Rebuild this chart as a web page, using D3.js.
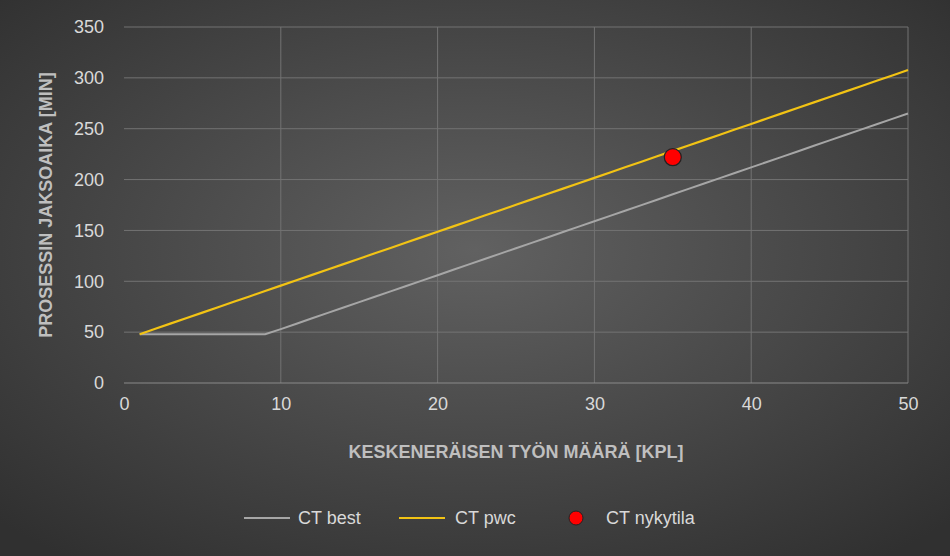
<!DOCTYPE html><html><head><meta charset="utf-8"><script src="https://cdn.jsdelivr.net/npm/d3@7"></script>
<style>body{margin:0;background:#333}text{font-family:"Liberation Sans",Arial,sans-serif}</style></head><body>
<svg id="c" width="950" height="556"></svg>
<script>
const wip = d3.range(1,51);
const ctBest = [48,48,48,48,48,48,48,48,48,53,58.3,63.6,68.9,74.2,79.5,84.8,90.1,95.4,100.7,106,111.3,116.6,121.9,127.2,132.5,137.8,143.1,148.4,153.7,159,164.3,169.6,174.9,180.2,185.5,190.8,196.1,201.4,206.7,212,217.3,222.6,227.9,233.2,238.5,243.8,249.1,254.4,259.7,265];
const ctPwc = [48,53.3,58.6,63.9,69.2,74.5,79.8,85.1,90.4,95.7,101,106.3,111.6,116.9,122.2,127.5,132.8,138.1,143.4,148.7,154,159.3,164.6,169.9,175.2,180.5,185.8,191.1,196.4,201.7,207,212.3,217.6,222.9,228.2,233.5,238.8,244.1,249.4,254.7,260,265.3,270.6,275.9,281.2,286.5,291.8,297.1,302.4,307.7];
const current = [{x:35,y:222}];
const xTicks = [0,10,20,30,40,50];
const yTicks = [0,50,100,150,200,250,300,350];

const svg = d3.select("#c");
const defs = svg.append("defs");
const g = defs.append("radialGradient").attr("id","bg").attr("cx","50%").attr("cy","45%").attr("r","70%");
g.append("stop").attr("offset","0%").attr("stop-color","#616161");
g.append("stop").attr("offset","100%").attr("stop-color","#303030");
svg.append("rect").attr("width",950).attr("height",556).attr("fill","url(#bg)");

const x = d3.scaleLinear().domain([0,50]).range([124,908]);
const y = d3.scaleLinear().domain([0,350]).range([383,27]);

svg.append("g").selectAll("line").data(yTicks.slice(1)).join("line")
 .attr("x1",124).attr("x2",908).attr("y1",d=>y(d)).attr("y2",d=>y(d)).attr("stroke","#737373").attr("stroke-width",1);
svg.append("g").selectAll("line").data(xTicks.slice(1)).join("line")
 .attr("y1",27).attr("y2",383).attr("x1",d=>x(d)).attr("x2",d=>x(d)).attr("stroke","#737373").attr("stroke-width",1);
svg.append("line").attr("x1",124).attr("x2",908).attr("y1",383).attr("y2",383).attr("stroke","#8a8a8a");

const yAx = svg.append("g").attr("transform","translate(124,0)").call(d3.axisLeft(y).tickValues(yTicks).tickSize(0).tickPadding(20));
const xAx = svg.append("g").attr("transform","translate(0,383)").call(d3.axisBottom(x).tickValues(xTicks).tickSize(0).tickPadding(14));
[yAx,xAx].forEach(a=>{a.select(".domain").remove();a.selectAll("text").attr("fill","#d9d9d9").style("font-size","18px");});

const line = d3.line().x((d,i)=>x(wip[i])).y(d=>y(d));
svg.append("path").datum(ctBest).attr("d",line).attr("fill","none").attr("stroke","#a6a6a6").attr("stroke-width",2);
svg.append("path").datum(ctPwc).attr("d",line).attr("fill","none").attr("stroke","#f2c314").attr("stroke-width",2.2);
svg.selectAll("circle.pt").data(current).join("circle").attr("cx",d=>x(d.x)).attr("cy",d=>y(d.y)).attr("r",8.5)
 .attr("fill","#ff0000").attr("stroke","#222").attr("stroke-width",1.2);

svg.append("text").attr("x",516).attr("y",458).attr("text-anchor","middle").attr("fill","#bfbfbf")
 .style("font-size","18px").style("font-weight","bold").text("KESKENERÄISEN TYÖN MÄÄRÄ [KPL]");
svg.append("text").attr("transform","translate(52,205) rotate(-90)").attr("text-anchor","middle").attr("fill","#bfbfbf")
 .style("font-size","18px").style("font-weight","bold").text("PROSESSIN JAKSOAIKA [MIN]");

const lg = svg.append("g").style("font-size","18px");
lg.append("line").attr("x1",244).attr("x2",290).attr("y1",518).attr("y2",518).attr("stroke","#a6a6a6").attr("stroke-width",2);
lg.append("text").attr("x",298).attr("y",524).attr("fill","#d9d9d9").text("CT best");
lg.append("line").attr("x1",399).attr("x2",445).attr("y1",518).attr("y2",518).attr("stroke","#f2c314").attr("stroke-width",2.2);
lg.append("text").attr("x",455).attr("y",524).attr("fill","#d9d9d9").text("CT pwc");
lg.append("circle").attr("cx",576).attr("cy",518).attr("r",7).attr("fill","#ff0000").attr("stroke","#222");
lg.append("text").attr("x",606).attr("y",524).attr("fill","#d9d9d9").text("CT nykytila");
</script></body></html>
